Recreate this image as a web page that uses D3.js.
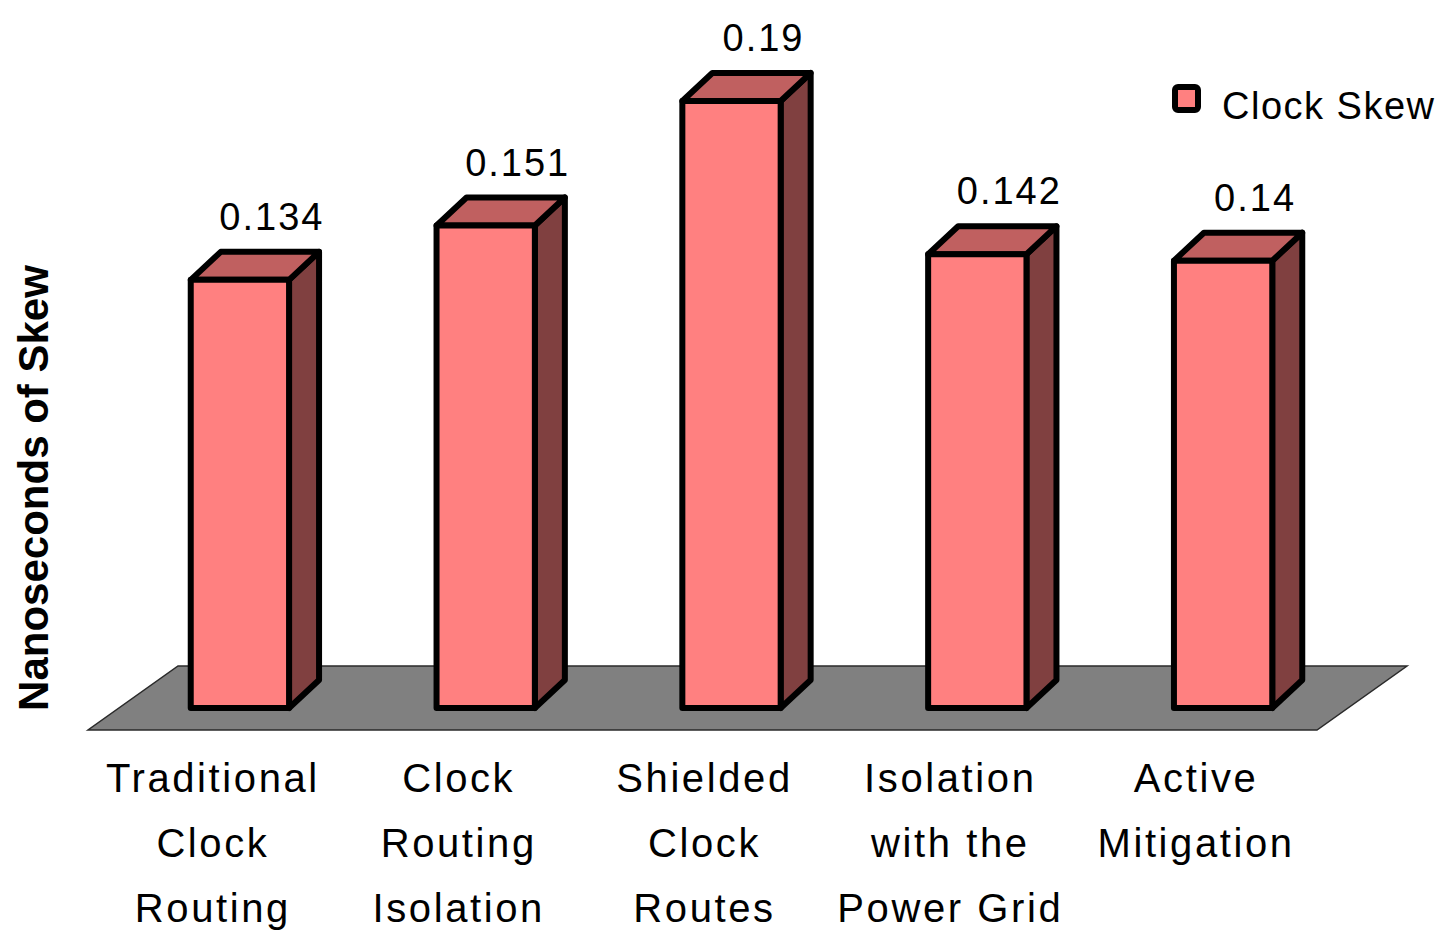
<!DOCTYPE html>
<html>
<head>
<meta charset="utf-8">
<title>Clock Skew</title>
<script src="https://cdn.jsdelivr.net/npm/d3@7"></script>
<style>
  body { margin: 0; background: #fff; }
  text { font-family: "Liberation Sans", Arial, sans-serif; fill: #000; }
</style>
</head>
<body>
<script>
// data
var categories = [
  ["Traditional", "Clock", "Routing"],
  ["Clock", "Routing", "Isolation"],
  ["Shielded", "Clock", "Routes"],
  ["Isolation", "with the", "Power Grid"],
  ["Active", "Mitigation"]
];
var skew = [0.134, 0.151, 0.19, 0.142, 0.14];
var seriesName = "Clock Skew";

var svgwidth = 1445,
    svgheight = 930,
    depthX = 30,   // bar depth offset
    depthY = -28,
    floorFrontY = 730,
    floorBackY = 666;

var svg = d3.select("body").append("svg")
    .attr("width", svgwidth)
    .attr("height", svgheight);

// scales for the bar front plane
var x = d3.scaleBand()
    .domain(d3.range(skew.length))
    .range([117, 1346])
    .paddingInner(0.6)
    .paddingOuter(0.3);

var y = d3.scaleLinear()
    .domain([0, 0.2])
    .range([708, 69]);

var x0 = x.range()[0], x1 = x.range()[1];

// floor
svg.append("polygon")
    .attr("points", [
        [x0 - 29, floorFrontY], [x1 - 29, floorFrontY],
        [x1 + 61, floorBackY], [x0 + 61, floorBackY]
      ].join(" "))
    .style("fill", "#808080")
    .style("stroke", "#2a2a2a")
    .style("stroke-width", 1.5);

// bars
var bars = svg.selectAll(".bar")
    .data(skew)
    .enter().append("g")
      .attr("class", "bar")
      .style("stroke", "#000")
      .style("stroke-width", 6)
      .style("stroke-linejoin", "round");

bars.append("polygon")   // side
    .attr("points", function(d, i) {
      var r = x(i) + x.bandwidth();
      return [[r, y(d)], [r + depthX, y(d) + depthY], [r + depthX, y(0) + depthY], [r, y(0)]].join(" ");
    })
    .style("fill", "#804040");

bars.append("polygon")   // top
    .attr("points", function(d, i) {
      var l = x(i), r = x(i) + x.bandwidth();
      return [[l, y(d)], [l + depthX, y(d) + depthY], [r + depthX, y(d) + depthY], [r, y(d)]].join(" ");
    })
    .style("fill", "#C06060");

bars.append("rect")      // front
    .attr("x", function(d, i) { return x(i); })
    .attr("y", function(d) { return y(d); })
    .attr("width", x.bandwidth())
    .attr("height", function(d) { return y(0) - y(d); })
    .style("fill", "#FF8080");

// value labels
svg.selectAll(".value")
    .data(skew)
    .enter().append("text")
      .attr("class", "value")
      .attr("x", function(d, i) { return x(i) + x.bandwidth() / 2 + depthX + 2; })
      .attr("y", function(d) { return y(d) + depthY - 22; })
      .attr("text-anchor", "middle")
      .style("font-size", "38px")
      .style("letter-spacing", "2px")
      .text(function(d) { return d; });

// category labels, centred on the floor front edge
var labels = svg.selectAll(".cat")
    .data(categories)
    .enter().append("text")
      .attr("class", "cat")
      .attr("text-anchor", "middle")
      .style("font-size", "40px")
      .style("letter-spacing", "2.6px");

labels.selectAll("tspan")
    .data(function(d, i) { return d.map(function(s) { return {s: s, i: i}; }); })
    .enter().append("tspan")
      .attr("x", function(d) { return x(d.i) + x.bandwidth() / 2 - 27; })
      .attr("y", function(d, j) { return 792 + j * 65; })
      .text(function(d) { return d.s; });

// y axis title
svg.append("text")
    .attr("transform", "translate(48,488) rotate(-90)")
    .attr("text-anchor", "middle")
    .style("font-size", "42px")
    .style("font-weight", "bold")
    .text("Nanoseconds of Skew");

// legend
var legend = svg.append("g").attr("transform", "translate(1175,87)");
legend.append("rect")
    .attr("width", 23)
    .attr("height", 23)
    .attr("rx", 3)
    .style("fill", "#FF8080")
    .style("stroke", "#000")
    .style("stroke-width", 6);
legend.append("text")
    .attr("x", 47)
    .attr("y", 32)
    .style("font-size", "38px")
    .style("letter-spacing", "1.5px")
    .text(seriesName);
</script>
</body>
</html>
